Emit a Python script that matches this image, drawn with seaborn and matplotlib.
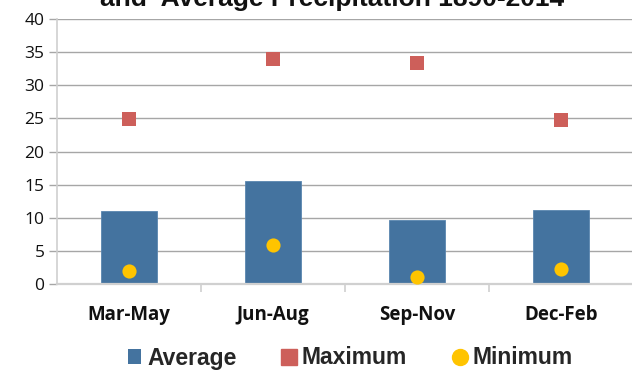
import matplotlib
matplotlib.use("Agg")
import matplotlib.pyplot as plt
from matplotlib.lines import Line2D
from matplotlib.patches import Patch
import seaborn as sns
import pandas as pd

seasons = ["Mar-May", "Jun-Aug", "Sep-Nov", "Dec-Feb"]
average = [11.0, 15.5, 9.7, 11.1]
maximum = [24.9, 34.0, 33.3, 24.8]
minimum = [2.0, 5.9, 1.1, 2.2]
y_ticks = [0, 5, 10, 15, 20, 25, 30, 35, 40]
title_line = "and  Average Precipitation 1890-2014"

df = pd.DataFrame({"season": seasons, "Average": average,
                   "Maximum": maximum, "Minimum": minimum})

sns.set_theme(style="white")
plt.rcParams["font.family"] = ["Liberation Sans", "DejaVu Sans"]

c_avg = "#44739F"
c_max = "#CD5F5A"
c_min = "#FFC400"
grid_c = "#A6A6A6"
axis_c = "#D0D0D0"

fig = plt.figure(figsize=(6.32, 3.71), dpi=100)
ax = fig.add_axes([57 / 632, 1 - 284 / 371, 576 / 632, 265 / 371])

sns.barplot(data=df, x="season", y="Average", color=c_avg, width=0.395,
            saturation=1, ax=ax, zorder=2, edgecolor="#5A86B0", linewidth=0.6)
sns.stripplot(data=df, x="season", y="Maximum", color=c_max, marker="s",
              size=9.4, jitter=False, linewidth=0, ax=ax, zorder=3)
sns.stripplot(data=df, x="season", y="Minimum", color=c_min, marker="o",
              size=10.2, jitter=False, linewidth=0, ax=ax, zorder=3)

ax.set_xlim(-0.5, 3.5)
ax.set_ylim(0, 40)
ax.set_yticks(y_ticks)
ax.set_yticklabels([str(v) for v in y_ticks], fontsize=12.5,
                   fontfamily="Open Sans", color="#111111")
ax.set_xlabel("")
ax.set_ylabel("")
ax.set_xticks(range(len(seasons)))
ax.set_xticklabels(seasons, fontsize=13.5, fontweight="bold",
                   fontfamily="Open Sans", color="#111111")

for v in y_ticks[1:]:
    ax.axhline(v, color=grid_c, linewidth=1.0, zorder=1)

for s in ["top", "right"]:
    ax.spines[s].set_visible(False)
ax.spines["left"].set_color(axis_c)
ax.spines["bottom"].set_color(axis_c)
ax.spines["left"].set_linewidth(1.2)
ax.spines["bottom"].set_linewidth(1.6)

ax.tick_params(axis="y", which="major", length=6, width=1.0, color=grid_c,
               left=True, pad=3)
ax.tick_params(axis="x", which="major", length=0, pad=15)
ax.set_xticks([0.5, 1.5, 2.5], minor=True)
ax.tick_params(axis="x", which="minor", length=6, width=1.2, color=axis_c,
               bottom=True)

fig.text(332 / 632, 1 - 6 / 371, title_line, ha="center", va="baseline",
         fontsize=19, fontweight="bold", color="#111111")

handles = [
    Patch(facecolor=c_avg, edgecolor="none"),
    Line2D([], [], marker="s", linestyle="none", color=c_max, markersize=11),
    Line2D([], [], marker="o", linestyle="none", color=c_min, markersize=11.5),
]
fig.legend(handles, ["Average", "Maximum", "Minimum"], loc="center",
           bbox_to_anchor=(350 / 632, 1 - 358 / 371), ncol=3, frameon=False,
           prop={"weight": "bold", "size": 16.5}, handlelength=0.6,
           handleheight=0.6, handletextpad=0.25, columnspacing=2.0)

fig.savefig("out.png", dpi=100)
